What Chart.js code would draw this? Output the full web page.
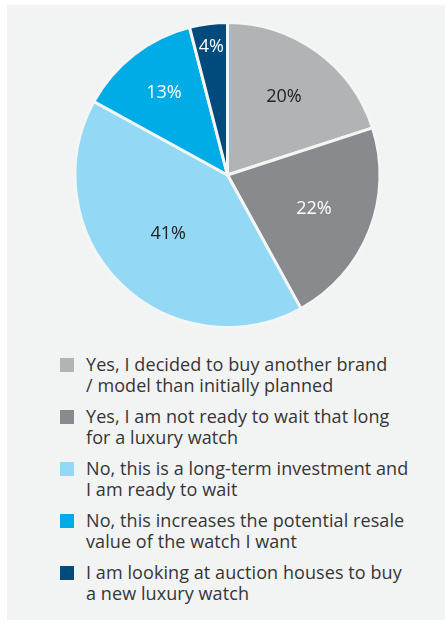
<!DOCTYPE html>
<html lang="en">
<head>
<meta charset="UTF-8">
<title>Luxury watch waiting</title>
<script src="https://cdn.jsdelivr.net/npm/chart.js"></script>
<style>
    body { margin: 0; background: #ffffff; overflow: hidden; font-family: "Open Sans", sans-serif; }
    .painel { position: absolute; left: 7px; top: 5px; width: 438px; height: 615px; background: #f2f3f3; }
    .grafico { position: absolute; left: 0; top: 0; width: 445px; height: 350px; }
    #legenda { position: absolute; left: 60px; top: 354px; width: 380px; }
    .item { display: flex; align-items: flex-start; margin-bottom: 10px; }
    .quad { width: 14px; height: 14px; margin-top: 4px; margin-right: 12px; flex: none; }
    .txt { font-size: 18px; line-height: 21px; color: #363636; letter-spacing: 0.08px; }
</style>
</head>
<body>
<div class="painel"></div>
<div class="grafico"><canvas id="pizza"></canvas></div>
<div id="legenda"></div>

<script>
    // dados
    var categorias = [
        ['Yes, I decided to buy another brand', '/ model than initially planned'],
        ['Yes, I am not ready to wait that long', 'for a luxury watch'],
        ['No, this is a long-term investment and', 'I am ready to wait'],
        ['No, this increases the potential resale', 'value of the watch I want'],
        ['I am looking at auction houses to buy', 'a new luxury watch']
    ];
    var valores = [20, 22, 41, 13, 4];
    var cores = ['#b1b3b4', '#898a8e', '#93d8f4', '#00ace6', '#004b7b'];

    // cor do texto e distancia do centro de cada rotulo
    var corRotulo = ['#222222', '#ffffff', '#222222', '#ffffff', '#ffffff'];
    var distRotulo = [0.63, 0.61, 0.55, 0.68, 0.85];

    var rotulos = {
        id: 'rotulos',
        afterDatasetsDraw(chart) {
            var ctx = chart.ctx;
            var meta = chart.getDatasetMeta(0);
            ctx.save();
            ctx.font = '18px "Open Sans"';
            ctx.textAlign = 'center';
            ctx.textBaseline = 'middle';
            meta.data.forEach(function (arc, i) {
                var p = arc.getProps(['x', 'y', 'startAngle', 'endAngle', 'outerRadius']);
                var meio = (p.startAngle + p.endAngle) / 2;
                var r = p.outerRadius * distRotulo[i];
                ctx.fillStyle = corRotulo[i];
                ctx.fillText(valores[i] + '%', p.x + Math.cos(meio) * r, p.y + Math.sin(meio) * r);
            });
            ctx.restore();
        }
    };

    new Chart(document.getElementById('pizza'), {
        type: 'pie',
        data: {
            labels: categorias,
            datasets: [{
                data: valores,
                backgroundColor: cores,
                borderColor: '#f4f5f5',
                borderWidth: 3
            }]
        },
        options: {
            responsive: true,
            maintainAspectRatio: false,
            animation: false,
            radius: 152.5,
            layout: { padding: { left: 10 } },
            plugins: { legend: { display: false }, tooltip: { enabled: false } }
        },
        plugins: [rotulos]
    });

    // legenda em html
    var leg = document.getElementById('legenda');
    categorias.forEach(function (linhas, i) {
        var item = document.createElement('div');
        item.className = 'item';
        item.innerHTML = '<div class="quad" style="background:' + cores[i] + '"></div>' +
            '<div class="txt">' + linhas.join('<br>') + '</div>';
        leg.appendChild(item);
    });
</script>
</body>
</html>
